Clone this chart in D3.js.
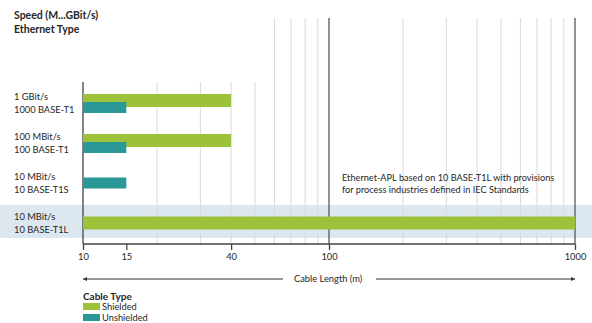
<!DOCTYPE html>
<html>
<head>
<meta charset="utf-8">
<script src="https://cdn.jsdelivr.net/npm/d3@7"></script>
<style>
  body { margin: 0; background: #fff; }
  text { font-family: Lato, "Open Sans", sans-serif; fill: #262626; }
</style>
</head>
<body>
<script>
// rows, top to bottom
var rowSpeed = ["1 GBit/s", "100 MBit/s", "10 MBit/s", "10 MBit/s"],
    rowType = ["1000 BASE-T1", "100 BASE-T1", "10 BASE-T1S", "10 BASE-T1L"];
// max cable length (m) per row, null = not available
var shielded = [40, 40, null, 1000],
    unshielded = [15, 15, 15, null];
var tickValues = [10, 15, 40, 100, 1000],
    gridValues = [20, 30, 40, 50, 60, 70, 80, 90, 200, 300, 400, 500, 600, 700, 800, 900],
    majorValues = [100, 1000];

var width = 592, height = 323,
    axisY = 244, gridTop = 18, plotTop = 82;

var green = "#9cc23a", teal = "#2a9896", band = "#dde7ef";

var x = d3.scaleLog().domain([10, 1000]).range([83, 575]);
var y = d3.scaleBand().domain(d3.range(rowType.length)).range([83, 243]);

var svg = d3.select("body").append("svg")
    .attr("width", width)
    .attr("height", height);

// highlighted row (Ethernet-APL)
svg.append("rect")
    .attr("x", 0)
    .attr("y", y(3) + 2)
    .attr("width", width)
    .attr("height", 33)
    .style("fill", band);

// light grid
svg.selectAll(".grid")
    .data(gridValues)
  .enter().append("line")
    .attr("class", "grid")
    .attr("x1", function(d) { return x(d); })
    .attr("x2", function(d) { return x(d); })
    .attr("y1", function(d) { return d >= 60 ? gridTop : plotTop; })
    .attr("y2", axisY)
    .style("stroke", "#dcd9d9")
    .style("stroke-width", 1);

// dark lines at 100 and 1000
svg.selectAll(".major")
    .data(majorValues)
  .enter().append("line")
    .attr("class", "major")
    .attr("x1", function(d) { return x(d); })
    .attr("x2", function(d) { return x(d); })
    .attr("y1", gridTop)
    .attr("y2", axisY)
    .style("stroke", "#5a5555")
    .style("stroke-width", 1.3);

// left axis line
svg.append("line")
    .attr("x1", x(10)).attr("x2", x(10))
    .attr("y1", plotTop).attr("y2", axisY)
    .style("stroke", "#444")
    .style("stroke-width", 1.3);

function bothBars(i) { return shielded[i] != null && unshielded[i] != null; }
function rowMid(i) { return y(i) + y.bandwidth() / 2; }

// shielded bars
svg.selectAll(".shielded")
    .data(d3.range(rowType.length).filter(function(i) { return shielded[i] != null; }))
  .enter().append("rect")
    .attr("class", "shielded")
    .attr("x", x(10))
    .attr("y", function(i) { return bothBars(i) ? rowMid(i) - 9 : rowMid(i) - 6.5; })
    .attr("width", function(i) { return x(shielded[i]) - x(10); })
    .attr("height", 13)
    .style("fill", green);

// unshielded bars
svg.selectAll(".unshielded")
    .data(d3.range(rowType.length).filter(function(i) { return unshielded[i] != null; }))
  .enter().append("rect")
    .attr("class", "unshielded")
    .attr("x", x(10))
    .attr("y", function(i) { return bothBars(i) ? rowMid(i) - 1 : rowMid(i) - 5.5; })
    .attr("width", function(i) { return x(unshielded[i]) - x(10); })
    .attr("height", 11)
    .style("fill", teal);

// row labels
var labels = svg.selectAll(".rowlabel")
    .data(d3.range(rowType.length))
  .enter().append("text")
    .attr("class", "rowlabel")
    .attr("x", 14)
    .attr("y", function(i) { return rowMid(i) - 3; })
    .style("font-size", "9.3px");
labels.append("tspan").text(function(i) { return rowSpeed[i]; });
labels.append("tspan")
    .attr("x", 14)
    .attr("dy", 13)
    .text(function(i) { return rowType[i]; });

// titles
svg.append("text")
    .attr("x", 14).attr("y", 19)
    .style("font-size", "10.5px").style("font-weight", "bold")
    .text("Speed (M...GBit/s)");
svg.append("text")
    .attr("x", 14).attr("y", 33)
    .style("font-size", "10.5px").style("font-weight", "bold")
    .text("Ethernet Type");

// annotation
var note = svg.append("text")
    .attr("x", 342).attr("y", 181)
    .style("font-size", "9.2px");
note.append("tspan").text("Ethernet-APL based on 10 BASE-T1L with provisions");
note.append("tspan").attr("x", 342).attr("dy", 12).text("for process industries defined in IEC Standards");

// x axis
var xAxis = d3.axisBottom(x)
    .tickValues(tickValues)
    .tickFormat(d3.format("d"))
    .tickSize(6)
    .tickPadding(3);

var gx = svg.append("g")
    .attr("transform", "translate(0," + axisY + ")")
    .call(xAxis);
gx.select(".domain").style("stroke", "#444").style("stroke-width", 1.3)
    .attr("d", "M" + x(10) + ",0H" + x(1000));
gx.selectAll(".tick line").style("stroke", "#444").style("stroke-width", 1.3);
gx.selectAll(".tick text")
    .style("font-family", "Lato, sans-serif")
    .style("font-size", "9.3px")
    .style("fill", "#262626");

// cable length arrows
var arrowY = 279;
svg.append("defs").selectAll("marker")
    .data(["start", "end"])
  .enter().append("marker")
    .attr("id", function(d) { return "arr-" + d; })
    .attr("viewBox", "0 0 10 10")
    .attr("refX", function(d) { return d == "end" ? 10 : 0; })
    .attr("refY", 5)
    .attr("markerWidth", 6)
    .attr("markerHeight", 4)
    .attr("markerUnits", "userSpaceOnUse")
    .attr("orient", "auto")
  .append("path")
    .attr("d", function(d) { return d == "end" ? "M0,0L10,5L0,10Z" : "M10,0L0,5L10,10Z"; })
    .style("fill", "#333");

svg.append("line")
    .attr("x1", x(10)).attr("x2", 283)
    .attr("y1", arrowY).attr("y2", arrowY)
    .style("stroke", "#333").style("stroke-width", 1.2)
    .attr("marker-start", "url(#arr-start)");
svg.append("line")
    .attr("x1", 376).attr("x2", x(1000))
    .attr("y1", arrowY).attr("y2", arrowY)
    .style("stroke", "#333").style("stroke-width", 1.2)
    .attr("marker-end", "url(#arr-end)");
svg.append("text")
    .attr("x", 294).attr("y", arrowY + 3)
    .style("font-size", "9.3px")
    .text("Cable Length (m)");

// legend
svg.append("text")
    .attr("x", x(10)).attr("y", 300)
    .style("font-size", "10px").style("font-weight", "bold")
    .text("Cable Type");

var legend = svg.selectAll(".legend")
    .data([["Shielded", green], ["Unshielded", teal]])
  .enter().append("g")
    .attr("class", "legend")
    .attr("transform", function(d, i) { return "translate(" + x(10) + "," + (303 + i * 11) + ")"; });
legend.append("rect")
    .attr("width", 17).attr("height", 7)
    .style("fill", function(d) { return d[1]; });
legend.append("text")
    .attr("x", 19).attr("y", 7)
    .style("font-size", "9.3px")
    .text(function(d) { return d[0]; });
</script>
</body>
</html>
